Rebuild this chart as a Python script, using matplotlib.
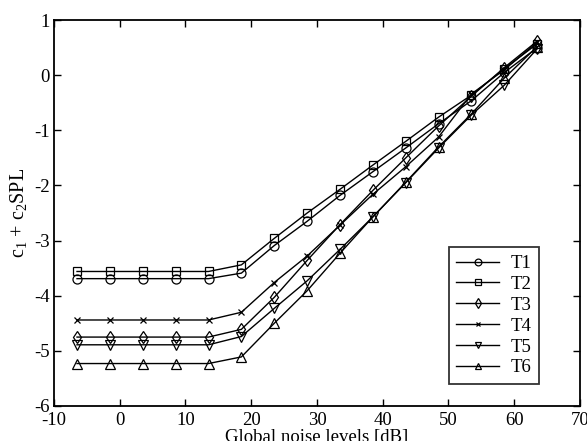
import matplotlib
matplotlib.use("Agg")
import matplotlib.pyplot as plt

plt.rcParams['font.family'] = ['Liberation Serif', 'DejaVu Serif']
plt.rcParams['mathtext.fontset'] = 'custom'
plt.rcParams['mathtext.rm'] = 'Liberation Serif'
plt.rcParams['mathtext.it'] = 'Liberation Serif'

noise_db = [-6.5, -1.5, 3.5, 8.5, 13.5, 18.5, 23.5, 28.5, 33.5, 38.5, 43.5, 48.5, 53.5, 58.5, 63.5]

T1 = [-3.69, -3.69, -3.69, -3.69, -3.69, -3.59, -3.09, -2.65, -2.18, -1.75, -1.32, -0.88, -0.46, 0.05, 0.50]
T2 = [-3.56, -3.56, -3.56, -3.56, -3.56, -3.44, -2.96, -2.50, -2.07, -1.63, -1.20, -0.76, -0.36, 0.12, 0.57]
T3 = [-4.75, -4.75, -4.75, -4.75, -4.75, -4.61, -4.03, -3.36, -2.71, -2.09, -1.50, -0.92, -0.38, 0.14, 0.62]
T4 = [-4.44, -4.44, -4.44, -4.44, -4.44, -4.30, -3.76, -3.28, -2.72, -2.16, -1.66, -1.12, -0.34, 0.10, 0.60]
T5 = [-4.89, -4.89, -4.89, -4.89, -4.89, -4.74, -4.23, -3.73, -3.16, -2.57, -1.95, -1.32, -0.72, -0.18, 0.48]
T6 = [-5.23, -5.23, -5.23, -5.23, -5.23, -5.11, -4.50, -3.91, -3.23, -2.57, -1.94, -1.30, -0.70, -0.05, 0.52]

series = [("T1", T1, 'o', 6.5), ("T2", T2, 's', 6), ("T3", T3, 'd', 6.5),
          ("T4", T4, 'x', 4), ("T5", T5, 'v', 6.5), ("T6", T6, '^', 6.5)]

xticks = [-10, 0, 10, 20, 30, 40, 50, 60, 70]
yticks = [-6, -5, -4, -3, -2, -1, 0, 1]

fig = plt.figure(figsize=(5.87, 4.41), dpi=100)
ax = fig.add_axes([0.092, 0.0794, 0.896, 0.875])

for name, vals, mk, ms in series:
    ax.plot(noise_db, vals, color='black', lw=1.0, marker=mk, ms=ms,
            mfc='none', mec='black', mew=0.9, label=name)

ax.set_xlim(-10, 70)
ax.set_ylim(-6, 1)
ax.set_xticks(xticks)
ax.set_yticks(yticks)
ax.set_xticklabels([str(t) for t in xticks])
ax.set_yticklabels([str(t) for t in yticks])
ax.tick_params(direction='in', top=True, right=True, length=5, width=1,
               labelsize=13.5)
ax.tick_params(axis='x', pad=4)
ax.tick_params(axis='y', pad=3)
for s in ax.spines.values():
    s.set_linewidth(1.3)

ax.set_xlabel("Global noise levels [dB]", fontsize=13.5, labelpad=0)
ax.set_ylabel(r"c$_1$ + c$_2$SPL", fontsize=14.5, labelpad=4)

leg = ax.legend(loc='lower right', bbox_to_anchor=(0.922, 0.057),
                fontsize=13.5, frameon=True, fancybox=False, edgecolor='black',
                handlelength=2.3, labelspacing=0.2, borderpad=0.4,
                handletextpad=0.6, borderaxespad=0, markerscale=0.75)
leg.get_frame().set_linewidth(1.3)

fig.savefig("out.png", dpi=100)
